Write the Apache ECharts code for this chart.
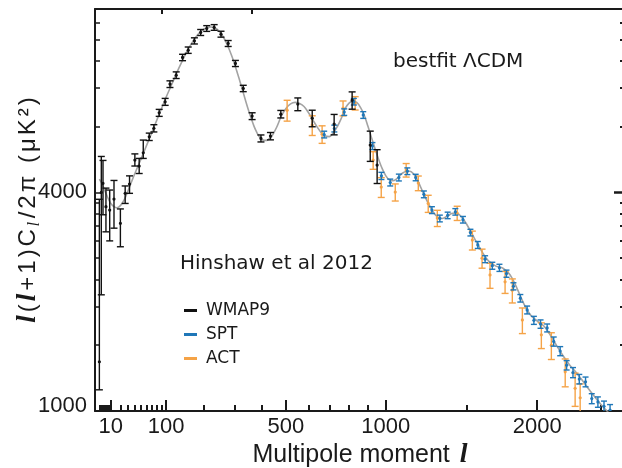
<!DOCTYPE html>
<html><head><meta charset="utf-8">
<script src="https://cdn.jsdelivr.net/npm/echarts@6/dist/echarts.min.js"></script>
<style>html,body{margin:0;padding:0;background:#fff}#c{width:622px;height:468px}</style>
</head><body><div id="c"></div>
<script>
// ---------------- data (multipole l, D_l in uK^2) ----------------
const theoryL = [2,3,4,6,8,10,13,16,20,25,30,35,40,50,60,70,80,90,100,110,120,130,140,150,160,170,180,190,200,210,220,230,240,250,260,270,280,290,300,310,320,330,340,350,360,370,380,390,400,410,420,430,440,460,480,500,520,540,560,580,600,620,640,660,680,700,720,740,760,780,800,820,840,860,880,900,920,940,960,980,1000,1020,1040,1060,1080,1100,1120,1140,1160,1180,1200,1220,1240,1260,1280,1300,1320,1340,1360,1380,1400,1420,1440,1460,1480,1500,1550,1600,1650,1700,1750,1800,1850,1900,1950,2000,2050,2100,2150,2200,2250,2300,2350,2400,2450,2500,2550,2600,2650,2700];
const theoryD = [1150,1110,1070,990,930,890,860,850,870,930,1020,1120,1220,1420,1640,1880,2140,2420,2720,3020,3340,3680,4020,4360,4680,4970,5230,5440,5590,5680,5710,5680,5580,5400,5150,4860,4530,4180,3830,3480,3160,2860,2590,2360,2170,2010,1890,1800,1750,1730,1730,1760,1800,1980,2230,2420,2540,2580,2550,2470,2320,2150,2000,1880,1810,1800,1870,2000,2180,2420,2560,2620,2580,2450,2260,2010,1780,1580,1410,1280,1190,1140,1130,1150,1190,1230,1250,1250,1220,1160,1080,1000,930,870,820,785,765,760,770,785,800,805,800,780,750,715,620,540,485,460,450,420,365,310,275,258,245,222,198,178,162,150,138,126,116,107,100,93,87,81];

const wmapL  = [2,3,4,6,9,13,20,26,32,40,47,54,65,74,85,98,109,124,140,155,172,190,208,231,253,277,302,330,363,397,435,478,552,618,724,816,913,951];
const wmapD  = [168,1000,1100,860,830,932,722,990,1091,1405,1319,1517,1797,1965,2312,2596,3128,3438,4143,4474,4934,5390,5620,5683,5294,4800,3889,2989,2233,1766,1809,2280,2534,2186,2053,2642,1646,1333];
const wmapLo = [125,340,790,660,600,686,564,890,990,1320,1220,1430,1727,1890,2227,2501,3018,3318,4003,4324,4774,5220,5450,5513,5129,4650,3764,2889,2153,1701,1739,2190,2364,1996,1833,2402,1386,1098];
const wmapHi = [930,1460,1400,1046,1025,1134,840,1070,1190,1500,1430,1735,1867,2040,2397,2691,3238,3558,4283,4624,5094,5560,5790,5853,5459,4950,4014,3089,2313,1831,1879,2370,2704,2376,2273,2882,1906,1568];

const sptL   = [675,725,775,825,875,925,975,1025,1075,1125,1175,1225,1275,1325,1375,1425,1475,1525,1575,1625,1675,1725,1775,1825,1875,1925,1975,2025,2075,2125,2175,2225,2275,2325,2375,2425,2475,2525,2575];
const sptD   = [1840,1960,2330,2600,2260,1630,1190,1110,1170,1250,1170,980,830,760,785,815,750,655,575,495,462,452,425,372,328,290,260,250,240,208,188,162,150,140,136,114,110,105,101];
const sptErr = [65,70,80,90,80,60,45,40,42,44,40,35,30,27,27,28,26,23,21,18,17,17,16,14,13,12,11,11,10,10,9,8,8,7,7,6,6,6,6];

const actL   = [505,618,665,769,832,929,974,1054,1118,1191,1252,1309,1437,1538,1604,1659,1765,1817,1890,2031,2107,2214,2292,2332];
const actD   = [2378,2031,1846,2429,2561,1405,1058,1003,1265,1103,890,763,804,605,500,419,390,357,261,223,200,151,127,115];
const actErr = [260,210,170,190,180,130,110,90,90,85,80,65,60,60,50,55,45,45,35,30,28,22,22,18];

const xMajorTicks = [10,100,500,1000,2000];
const xTickLabels = ['10','100','500','1000','2000'];
const xMinorTicks = [2,3,4,5,6,7,8,9,20,30,40,50,60,70,80,90,200,300,400,600,700,800,900,1500,2500];
const xTopTicks   = [90,360];
const yMajorTicks = [100,1000];
const yTickLabels = ['1000','4000'];
const yMinorTicks = [200,300,400,500,600,700,800,900,2000,3000,4000,5000,6000];
const X_MIN = 0.4, X_MAX = 2700, Y_MIN = 100, Y_MAX = 6900;

// ---------------- helpers ----------------
const POW = 0.6;                         // power-law multipole axis (l^0.6)
const tx = l => Math.pow(l, POW);
const AX = '#1a1a1a';
const SANS = "'Liberation Sans', Arial, sans-serif";
const SERIF = "'Liberation Serif', 'DejaVu Serif', serif";
const DV = "'DejaVu Sans', sans-serif";

function xLabel(v){ const i = xMajorTicks.findIndex(t => Math.abs(tx(t)-v) < 1e-3); return i>=0 ? xTickLabels[i] : ''; }
function yLabel(v){ const i = yMajorTicks.findIndex(t => Math.abs(t-v) < 1e-3*t); if(i<0) return ''; return i===0 ? '{lo|'+yTickLabels[i]+'}' : yTickLabels[i]; }

// y-axis title, one rich token per glyph (gives the wide letter spacing of the original)
const yTitleParts = [['i','l'],['a','('],['i','l'],['a','+'],['a','1'],['a',')'],['a','C'],['s','l'],['a','/'],['a','2'],['a','π'],['a',' '],['a','('],['a','μ'],['a','K'],['a','²'],['a',')']];
const yTitle = yTitleParts.map(p => '{' + p[0] + '|' + p[1] + '}').join('');

function errorBars(color, capHalf, lw, dotR){
  return function(params, api){
    const x = api.value(0), y = api.value(1), lo = api.value(2), hi = api.value(3);
    const c = api.coord([x,y]), a = api.coord([x,lo]), b = api.coord([x,hi]);
    const st = {stroke: color, lineWidth: lw};
    return {type:'group', children:[
      {type:'line', shape:{x1:c[0],y1:a[1],x2:c[0],y2:b[1]}, style:st},
      {type:'line', shape:{x1:c[0]-capHalf,y1:a[1],x2:c[0]+capHalf,y2:a[1]}, style:st},
      {type:'line', shape:{x1:c[0]-capHalf,y1:b[1],x2:c[0]+capHalf,y2:b[1]}, style:st},
      {type:'circle', shape:{cx:c[0],cy:c[1],r:dotR}, style:{fill:color}}
    ]};
  };
}

const xBase = g => ({type:'value', min: tx(X_MIN), max: tx(X_MAX), splitLine:{show:false}, gridIndex:g, nameMoveOverlap:false});
const yBase = g => ({type:'log', logBase:10, min: Y_MIN, max: Y_MAX, splitLine:{show:false}, gridIndex:g, nameMoveOverlap:false});
const gridBox = {left:95, right:-3, top:9, bottom:57, show:false, containLabel:false, outerBoundsMode:'none'};

const chart = echarts.init(document.getElementById('c'), null, {renderer:'canvas'});
chart.setOption({
  animation:false,
  backgroundColor:'#fff',
  grid:[Object.assign({}, gridBox), Object.assign({}, gridBox)],
  xAxis:[
    Object.assign(xBase(0), {position:'bottom',
      axisLine:{show:true, onZero:false, lineStyle:{color:AX, width:2}},
      axisTick:{show:true, inside:true, length:11, lineStyle:{color:AX, width:2}, customValues: xMajorTicks.map(tx)},
      axisLabel:{show:true, margin:5, color:'#1a1a1a', fontFamily:SANS, fontSize:22, customValues: xMajorTicks.map(tx), formatter:xLabel},
      name:'{a|Multipole moment }{b|l}', nameLocation:'middle', nameGap:30,
      nameTextStyle:{rich:{a:{fontFamily:SANS, fontSize:25, color:'#1a1a1a', lineHeight:28},
                           b:{fontFamily:SERIF, fontStyle:'italic', fontWeight:'bold', fontSize:28, color:'#1a1a1a', lineHeight:28, padding:[0,0,0,3]}}}
    }),
    Object.assign(xBase(0), {position:'top',
      axisLine:{show:true, onZero:false, lineStyle:{color:AX, width:2}},
      axisTick:{show:true, inside:true, length:5, lineStyle:{color:AX, width:2}, customValues: xTopTicks.map(tx)},
      axisLabel:{show:false}
    }),
    Object.assign(xBase(1), {position:'bottom',
      axisLine:{show:false, onZero:false},
      axisTick:{show:true, inside:true, length:6, lineStyle:{color:AX, width:2}, customValues: xMinorTicks.map(tx)},
      axisLabel:{show:false}
    })
  ],
  yAxis:[
    Object.assign(yBase(0), {position:'left',
      axisLine:{show:true, onZero:false, lineStyle:{color:AX, width:2}},
      axisTick:{show:true, inside:true, length:6, lineStyle:{color:AX, width:1.5}, customValues: yMajorTicks},
      axisLabel:{show:true, margin:8, color:'#1a1a1a', fontFamily:SANS, fontSize:22, customValues: yMajorTicks, formatter:yLabel,
                 rich:{lo:{fontFamily:SANS, fontSize:22, color:'#1a1a1a', padding:[0,0,10,0]}}},
      name: yTitle, nameLocation:'middle', nameGap:52,
      nameTextStyle:{rich:{
        a:{fontFamily:SANS, fontSize:24, color:'#1a1a1a', lineHeight:30, padding:[0,1.5,0,1.5]},
        i:{fontFamily:SERIF, fontStyle:'italic', fontWeight:'bold', fontSize:27, color:'#1a1a1a', lineHeight:30, padding:[0,1.5,0,1.5]},
        s:{fontFamily:SERIF, fontStyle:'italic', fontSize:17, color:'#1a1a1a', lineHeight:30, verticalAlign:'bottom', padding:[0,2,0,1]}}}
    }),
    Object.assign(yBase(0), {position:'right',
      axisLine:{show:true, onZero:false, lineStyle:{color:AX, width:2}},
      axisTick:{show:true, inside:true, length:11, lineStyle:{color:AX, width:2.5}, customValues: [yMajorTicks[1]]},
      axisLabel:{show:false}
    }),
    Object.assign(yBase(1), {position:'left',
      axisLine:{show:false, onZero:false},
      axisTick:{show:true, inside:true, length:5, lineStyle:{color:AX, width:1.5}, customValues: yMinorTicks},
      axisLabel:{show:false}
    }),
    Object.assign(yBase(1), {position:'right',
      axisLine:{show:false, onZero:false},
      axisTick:{show:true, inside:true, length:5, lineStyle:{color:AX, width:2}, customValues: yMinorTicks},
      axisLabel:{show:false}
    })
  ],
  legend:{
    data:[{name:'WMAP9'},{name:'SPT'},{name:'ACT'}],
    orient:'vertical', left:184, top:302, padding:0, itemGap:7,
    icon:'rect', itemWidth:13, itemHeight:3,
    textStyle:{fontFamily:DV, fontSize:17, color:'#1a1a1a', lineHeight:17, padding:[0,0,0,4]}
  },
  graphic:[
    {type:'text', left:393, top:52, style:{text:'bestfit ΛCDM', font:"20px 'DejaVu Sans'", fill:'#1a1a1a'}},
    {type:'text', left:180, top:254, style:{text:'Hinshaw et al 2012', font:"20px 'DejaVu Sans'", fill:'#1a1a1a'}}
  ],
  series:[
    {name:'bestfit', type:'line', xAxisIndex:0, yAxisIndex:0, smooth:0.35, showSymbol:false, z:1,
     lineStyle:{color:'#a3a3a3', width:1.6}, data: theoryL.map((l,i)=>[tx(l), theoryD[i]])},
    {name:'WMAP9', type:'custom', xAxisIndex:0, yAxisIndex:0, z:4, clip:true,
     itemStyle:{color:'#111111'}, renderItem: errorBars('#111111', 3.5, 1.4, 1.6),
     encode:{x:0, y:1}, data: wmapL.map((l,i)=>[tx(l), wmapD[i], wmapLo[i], wmapHi[i]])},
    {name:'SPT', type:'custom', xAxisIndex:0, yAxisIndex:0, z:3, clip:true,
     itemStyle:{color:'#1f77b8'}, renderItem: errorBars('#1f77b8', 3, 1.4, 1.6),
     encode:{x:0, y:1}, data: sptL.map((l,i)=>[tx(l), sptD[i], sptD[i]-sptErr[i], sptD[i]+sptErr[i]])},
    {name:'ACT', type:'custom', xAxisIndex:0, yAxisIndex:0, z:2, clip:true,
     itemStyle:{color:'#f5a347'}, renderItem: errorBars('#f5a347', 3.5, 1.4, 1.6),
     encode:{x:0, y:1}, data: actL.map((l,i)=>[tx(l), actD[i], actD[i]-actErr[i], actD[i]+actErr[i]])}
  ]
});
</script></body></html>
